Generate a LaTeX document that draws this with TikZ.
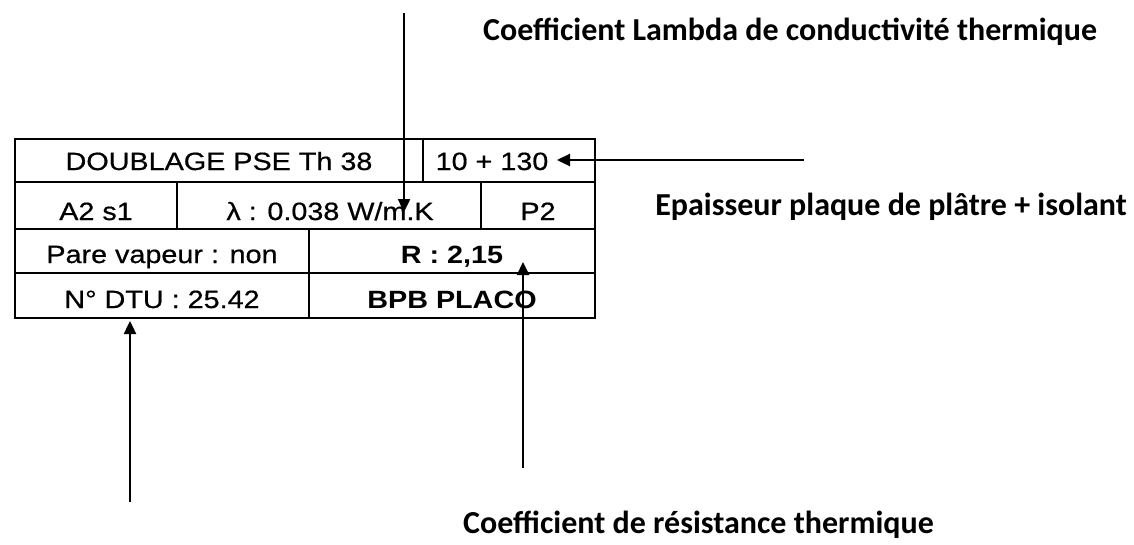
\documentclass[tikz,border=0pt]{standalone}
\usepackage{fontspec}
\setmainfont{Liberation Sans}[FakeStretch=1.15,UprightFeatures={FakeBold=0.6}]
\newfontfamily\notefont{Carlito}
\usepackage{tikz}
\usetikzlibrary{
	arrows.meta,
	calc
}

\begin{document}
\begin{tikzpicture}[x=1pt,y=-1pt,
		cell/.style={anchor=base,inner sep=0pt,font=\fontsize{25}{27}\selectfont},
		boldcell/.style={cell,font=\fontsize{25}{27}\selectfont\bfseries},
		note/.style={anchor=base west,inner sep=0pt,font=\notefont\fontsize{32}{34}\selectfont\bfseries},
		grid/.style={line width=1.8pt},
		pointer/.style={line width=2.4pt,-{Triangle[length=13pt,width=12pt]}}]
		\useasboundingbox (0,0) rectangle (1134,544);
		
		% 表格外框
		\draw[grid] (15,139) rectangle (595,318);
		
		% 横线与竖线
		\draw[grid] (15,182)--(595,182) (15,229)--(595,229) (15,273)--(595,273);
		\draw[grid] (423,139)--(423,182);
		\draw[grid] (177,182)--(177,229) (481,182)--(481,229);
		\draw[grid] (309,229)--(309,318);
		
		% 表格文字
		\node[cell] (doublage) at (219,170) {DOUBLAGE PSE Th 38};
		\node[cell] (thick) at (492,170) {10 + 130};
		\node[cell] (fire) at (96,220) {A2 s1};
		\node[cell] (lambda) at (330,220) {λ : 0.038 W/m.K};
		\node[cell] (ptwo) at (538,220) {P2};
		\node[cell] (vapour) at (162,263) {Pare vapeur : non};
		\node[boldcell] (rvalue) at (452,263) {R : 2,15};
		\node[cell] (dtu) at (162,308) {N° DTU : 25.42};
		\node[boldcell] (maker) at (452,308) {BPB PLACO};
		
		% 说明文字
		\node[note] (lambdanote) at (483,40) {Coefficient Lambda de conductivité thermique};
		\node[note,anchor=base east] (thicknote) at (1127,215) {Epaisseur plaque de plâtre + isolant};
		\node[note] (rnote) at (463,533) {Coefficient de résistance thermique};
		
		% 箭头端点
		\coordinate (lambdafrom) at (404,13);
		\coordinate (lambdato) at (404,212);
		\coordinate (thickfrom) at (804,160);
		\coordinate (thickto) at (557,160);
		\coordinate (rfrom) at (523,468);
		\coordinate (rto) at (523,262);
		\coordinate (dtufrom) at (130,502);
		\coordinate (dtuto) at (130,321);
		
		% 箭头
		\draw[pointer] (lambdafrom)--(lambdato);
		\draw[pointer] (thickfrom)--(thickto);
		\draw[pointer] (rfrom)--(rto);
		\draw[pointer] (dtufrom)--(dtuto);
	\end{tikzpicture}
\end{document}
